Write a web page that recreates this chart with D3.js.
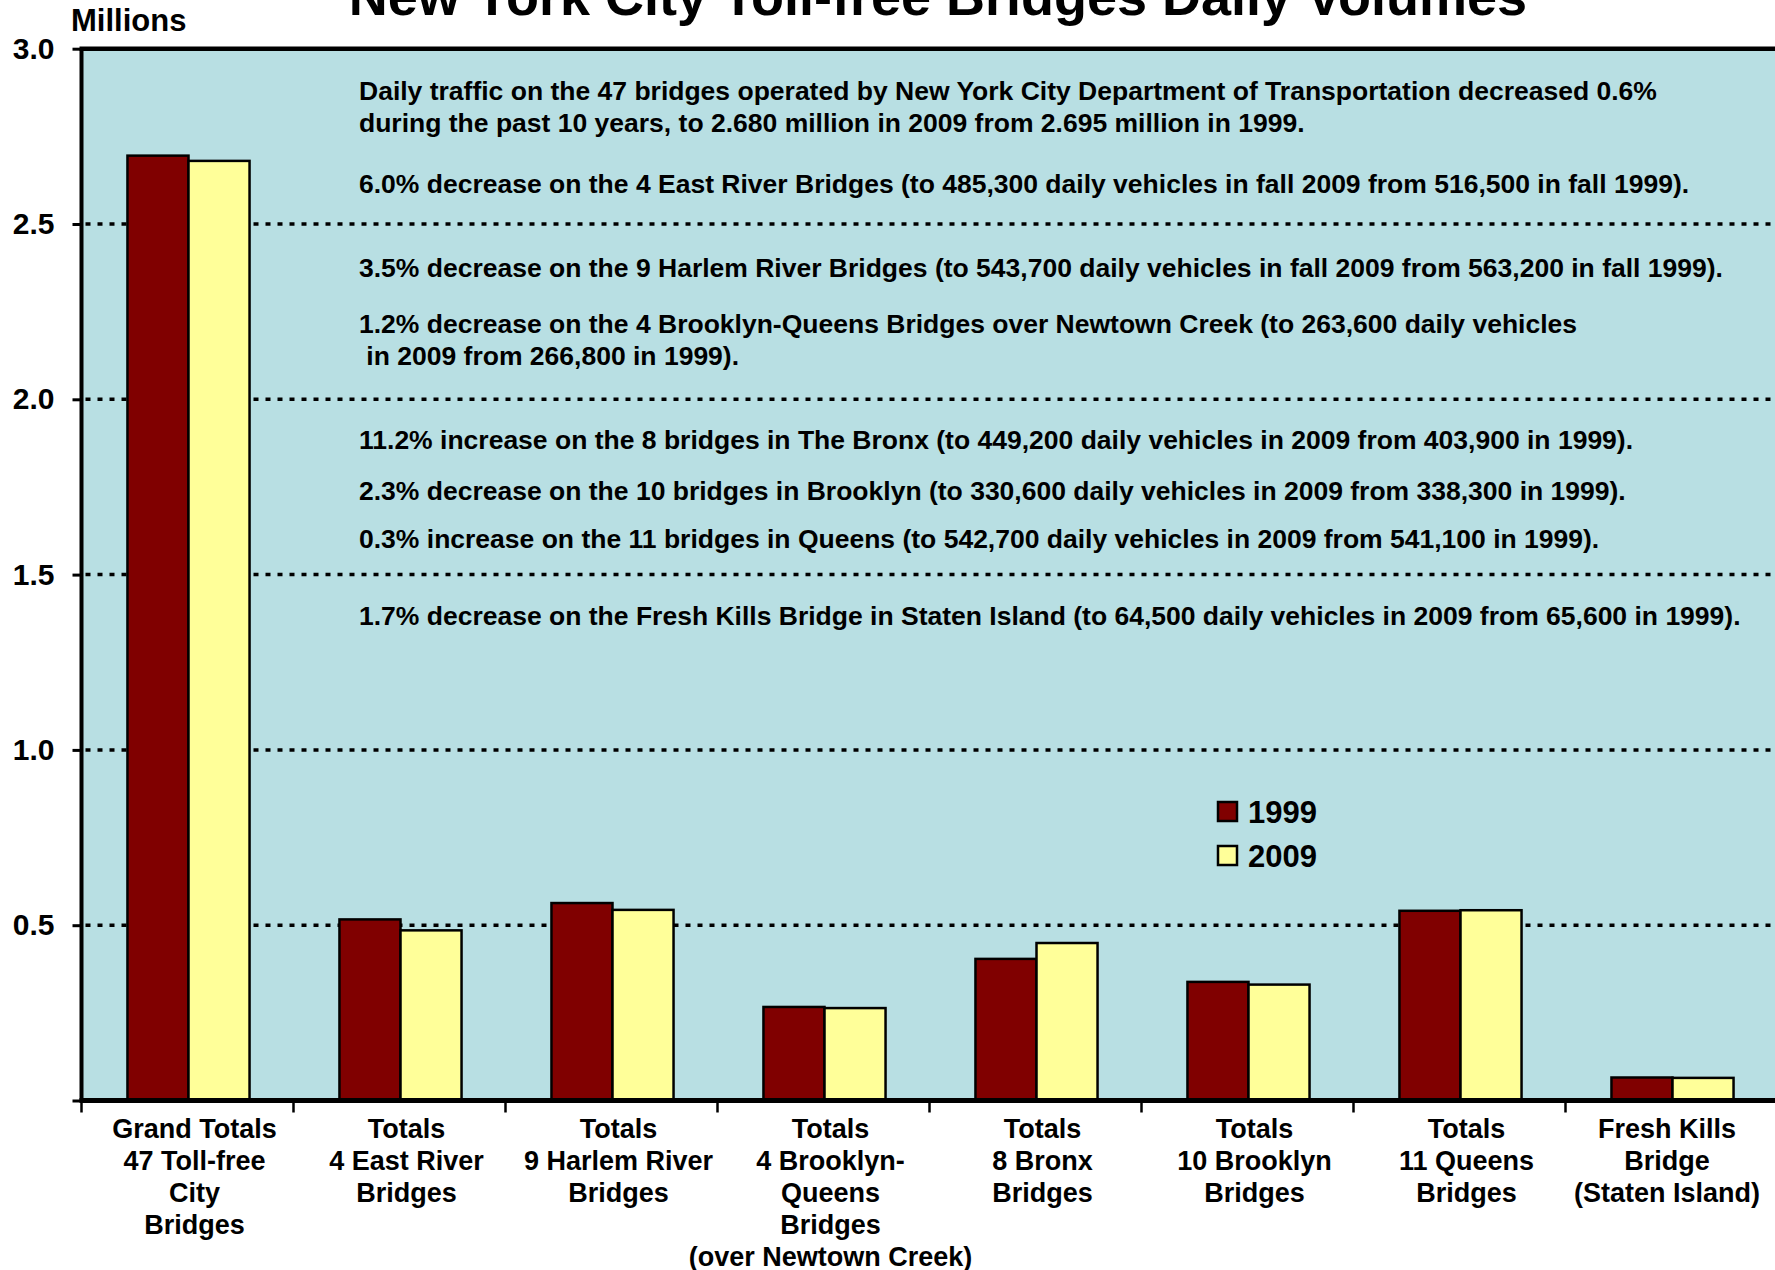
<!DOCTYPE html>
<html lang='en'>
	<head>
		<meta charset='utf-8'>
		<title>NYC Toll-free Bridges</title>
		<script type='text/javascript' src='https://cdn.jsdelivr.net/npm/d3@7'></script>
		<style>
			body { margin: 0; background: white; }
			svg text { font-family: 'Liberation Sans', Arial, sans-serif; font-weight: bold; fill: black; white-space: pre; }
			g.grid line { stroke: black; stroke-width: 3.5; stroke-dasharray: 5,7; }
			g.bars rect { stroke: black; stroke-width: 2.5; }
		</style>
	</head>
	<body>
		<script type='text/javascript'>
			var categories = [
				['Grand Totals', '47 Toll-free', 'City', 'Bridges'],
				['Totals', '4 East River', 'Bridges'],
				['Totals', '9 Harlem River', 'Bridges'],
				['Totals', '4 Brooklyn-', 'Queens', 'Bridges', '(over Newtown Creek)'],
				['Totals', '8 Bronx', 'Bridges'],
				['Totals', '10 Brooklyn', 'Bridges'],
				['Totals', '11 Queens', 'Bridges'],
				['Fresh Kills', 'Bridge', '(Staten Island)']
			];
			var series = ['1999', '2009'];
			var values1999 = [2.695, 0.5165, 0.5632, 0.2668, 0.4039, 0.3383, 0.5411, 0.0656];
			var values2009 = [2.680, 0.4853, 0.5437, 0.2636, 0.4492, 0.3306, 0.5427, 0.0645];
			var colors = ['#800000', '#FFFF99'];
			var yTicks = [0.5, 1.0, 1.5, 2.0, 2.5, 3.0];
			var notes = [
				'Daily traffic on the 47 bridges operated by New York City Department of Transportation decreased 0.6%',
				'during the past 10 years, to 2.680 million in 2009 from 2.695 million in 1999.',
				'6.0% decrease on the 4 East River Bridges (to 485,300 daily vehicles in fall 2009 from 516,500 in fall 1999).',
				'3.5% decrease on the 9 Harlem River Bridges (to 543,700 daily vehicles in fall 2009 from 563,200 in fall 1999).',
				'1.2% decrease on the 4 Brooklyn-Queens Bridges over Newtown Creek (to 263,600 daily vehicles',
				' in 2009 from 266,800 in 1999).',
				'11.2% increase on the 8 bridges in The Bronx (to 449,200 daily vehicles in 2009 from 403,900 in 1999).',
				'2.3% decrease on the 10 bridges in Brooklyn (to 330,600 daily vehicles in 2009 from 338,300 in 1999).',
				'0.3% increase on the 11 bridges in Queens (to 542,700 daily vehicles in 2009 from 541,100 in 1999).',
				'1.7% decrease on the Fresh Kills Bridge in Staten Island (to 64,500 daily vehicles in 2009 from 65,600 in 1999).'
			];
			var title = 'New York City Toll-free Bridges Daily Volumes';

			var width = 1775, height = 1270;
			var margin = {left: 81.5, top: 48.7, right: -2.5, bottom: 169.5};
			var w = width - margin.left - margin.right;
			var h = height - margin.top - margin.bottom;

			var data = categories.map(function(c, i) {
				return {label: c, vals: [values1999[i], values2009[i]]};
			});

			var x = d3.scaleBand().domain(d3.range(categories.length)).range([0, w]);
			var x1 = d3.scaleBand().domain(series).range([2, x.bandwidth()]).paddingOuter(0.72);
			var y = d3.scaleLinear().domain([0, 3]).range([h, 0]);

			var svg = d3.select('body').append('svg')
				.attr('width', width)
				.attr('height', height);

			svg.append('text')
				.attr('x', 938).attr('y', 15)
				.attr('text-anchor', 'middle')
				.style('font-size', '54px')
				.text(title);

			svg.append('text')
				.attr('x', 71).attr('y', 31)
				.style('font-size', '31px')
				.text('Millions');

			var g = svg.append('g').attr('transform', 'translate(' + margin.left + ',' + margin.top + ')');

			g.append('rect')
				.attr('width', w).attr('height', h)
				.attr('fill', '#B8DFE3');

			g.append('g').attr('class', 'grid')
				.selectAll('line')
				.data(yTicks.filter(function(d) { return d < 3; }))
				.enter().append('line')
					.attr('x1', 4).attr('x2', w)
					.attr('y1', function(d) { return y(d); })
					.attr('y2', function(d) { return y(d); });

			// notes
			var noteY = [90.6, 122.3, 183.4, 267.2, 323.8, 355.5, 439.2, 490.2, 538.8, 615.8];
			g.append('g').selectAll('text')
				.data(notes)
				.enter().append('text')
					.attr('x', 359 - margin.left)
					.attr('y', function(d, i) { return noteY[i] - margin.top; })
					.attr('dy', '0.36em')
					.style('font-size', '26.5px')
					.text(function(d) { return d; });

			g.append('g').attr('class', 'bars')
				.selectAll('g')
				.data(data)
				.enter().append('g')
					.attr('transform', function(d, i) { return 'translate(' + x(i) + ',0)'; })
				.selectAll('rect')
				.data(function(d) { return d.vals.map(function(v, j) { return {s: series[j], v: v, c: colors[j]}; }); })
				.enter().append('rect')
					.attr('x', function(d) { return x1(d.s); })
					.attr('width', x1.bandwidth())
					.attr('y', function(d) { return y(d.v); })
					.attr('height', function(d) { return h - y(d.v); })
					.attr('fill', function(d) { return d.c; });

			// axes
			var yAxis = g.append('g')
				.call(d3.axisLeft(y).tickValues([0].concat(yTicks)).tickSize(9).tickFormat(function(d) { return d ? d3.format('.1f')(d) : ''; }));
			yAxis.select('.domain').remove();
			yAxis.selectAll('.tick line').attr('stroke', 'black').attr('stroke-width', 3);
			yAxis.selectAll('.tick text')
				.attr('x', -27)
				.style('font-size', '30px')
				.style('font-family', "'Liberation Sans', Arial, sans-serif");

			g.append('line').attr('x1', 0).attr('x2', 0).attr('y1', 0).attr('y2', h)
				.attr('stroke', 'black').attr('stroke-width', 4);
			g.append('line').attr('x1', -2).attr('x2', w).attr('y1', 0).attr('y2', 0)
				.attr('stroke', 'black').attr('stroke-width', 4.5);
			g.append('line').attr('x1', -2).attr('x2', w).attr('y1', h).attr('y2', h)
				.attr('stroke', 'black').attr('stroke-width', 5);

			g.append('g').selectAll('line')
				.data(d3.range(categories.length + 1))
				.enter().append('line')
					.attr('x1', function(d) { return d * x.step(); })
					.attr('x2', function(d) { return d * x.step(); })
					.attr('y1', h).attr('y2', h + 12)
					.attr('stroke', 'black').attr('stroke-width', 2.5);

			var labels = g.append('g').selectAll('text')
				.data(data)
				.enter().append('text')
					.attr('text-anchor', 'middle')
					.style('font-size', '27px');
			labels.selectAll('tspan')
				.data(function(d) { return d.label; })
				.enter().append('tspan')
					.attr('x', 0)
					.attr('y', function(d, i) { return i * 32; })
					.text(function(d) { return d; });
			// centre a little right of the band, but keep the label inside the page
			labels.attr('transform', function(d, i) {
				var half = this.getBBox().width / 2;
				var cx = Math.min(x(i) + x.bandwidth() / 2 + 7, width - margin.left - 15 - half);
				return 'translate(' + cx + ',' + (h + 37) + ')';
			});

			// legend
			var legend = svg.append('g').selectAll('g')
				.data(series)
				.enter().append('g')
					.attr('transform', function(d, i) { return 'translate(1218,' + (802 + i * 44) + ')'; });
			legend.append('rect')
				.attr('width', 19).attr('height', 19)
				.attr('fill', function(d, i) { return colors[i]; })
				.attr('stroke', 'black').attr('stroke-width', 2.5);
			legend.append('text')
				.attr('x', 30).attr('y', 10).attr('dy', '0.36em')
				.style('font-size', '31px')
				.text(function(d) { return d; });
		</script>
	</body>
</html>
